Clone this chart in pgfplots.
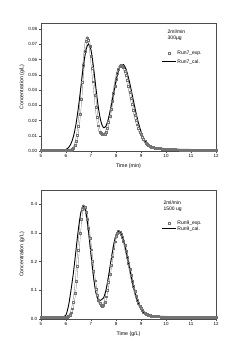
\documentclass[border=0pt]{standalone}
\usepackage{pgfplots}
\pgfplotsset{compat=1.18}
\usepackage{pgfplotstable}
\usepackage{fontspec}
\setmainfont{Liberation Sans}

\pgfplotstableread{
x y
5.00 0.0004
5.05 0.0004
5.10 0.0005
5.15 0.0004
5.20 0.0004
5.25 0.0005
5.30 0.0004
5.35 0.0004
5.40 0.0005
5.45 0.0004
5.50 0.0004
5.55 0.0005
5.60 0.0004
5.65 0.0004
5.70 0.0005
5.75 0.0004
5.80 0.0004
5.85 0.0005
5.90 0.0004
5.95 0.0004
6.00 0.0005
6.05 0.0004
6.10 0.0004
6.15 0.0006
6.20 0.0008
6.25 0.0012
6.30 0.0021
6.35 0.0036
6.40 0.0063
6.45 0.0104
6.50 0.0164
6.55 0.0244
6.60 0.0343
6.65 0.0453
6.70 0.0563
6.75 0.0657
6.80 0.0721
6.85 0.0744
6.90 0.0729
6.95 0.0687
7.00 0.0622
7.05 0.0542
7.10 0.0455
7.15 0.0368
7.20 0.0288
7.25 0.0220
7.30 0.0166
7.35 0.0126
7.40 0.0116
7.45 0.0110
7.50 0.0108
7.55 0.0112
7.60 0.0126
7.65 0.0151
7.70 0.0188
7.75 0.0230
7.80 0.0277
7.85 0.0327
7.90 0.0378
7.95 0.0427
8.00 0.0472
8.05 0.0510
8.10 0.0539
8.15 0.0558
8.20 0.0564
8.25 0.0560
8.30 0.0547
8.35 0.0526
8.40 0.0498
8.45 0.0465
8.50 0.0427
8.55 0.0386
8.60 0.0344
8.65 0.0305
8.70 0.0268
8.75 0.0233
8.80 0.0201
8.85 0.0173
8.90 0.0148
8.95 0.0126
9.00 0.0110
9.05 0.0091
9.10 0.0076
9.15 0.0062
9.20 0.0052
9.25 0.0044
9.30 0.0038
9.35 0.0032
9.40 0.0028
9.45 0.0025
9.50 0.0023
9.55 0.0021
9.60 0.0019
9.65 0.0017
9.70 0.0017
9.75 0.0016
9.80 0.0015
9.85 0.0014
9.90 0.0014
9.95 0.0013
10.00 0.0013
10.05 0.0012
10.10 0.0012
10.15 0.0011
10.20 0.0011
10.25 0.0010
10.30 0.0010
10.35 0.0010
10.40 0.0009
10.45 0.0009
10.50 0.0009
10.55 0.0008
10.60 0.0008
10.65 0.0008
10.70 0.0008
10.75 0.0007
10.80 0.0007
10.85 0.0007
10.90 0.0007
10.95 0.0007
11.00 0.0006
11.05 0.0006
11.10 0.0006
11.15 0.0006
11.20 0.0006
11.25 0.0006
11.30 0.0006
11.35 0.0006
11.40 0.0006
11.45 0.0006
11.50 0.0005
11.55 0.0005
11.60 0.0005
11.65 0.0005
11.70 0.0005
11.75 0.0005
11.80 0.0005
11.85 0.0005
11.90 0.0005
11.95 0.0005
12.00 0.0005
}\topexp

\pgfplotstableread{
x y
5.0 0.0002
5.2 0.0002
5.4 0.0002
5.6 0.0002
5.7 0.0002
5.8 0.0003
5.9 0.0005
6.0 0.0010
6.1 0.0022
6.2 0.0048
6.3 0.0097
6.4 0.0177
6.5 0.0290
6.6 0.0427
6.7 0.0563
6.8 0.0664
6.9 0.0702
7.0 0.0662
7.1 0.0550
7.2 0.0409
7.3 0.0279
7.4 0.0191
7.5 0.0153
7.6 0.0165
7.7 0.0214
7.8 0.0289
7.9 0.0376
8.0 0.0461
8.1 0.0529
8.2 0.0567
8.3 0.0568
8.4 0.0537
8.5 0.0480
8.6 0.0408
8.7 0.0328
8.8 0.0251
8.9 0.0183
9.0 0.0128
9.1 0.0087
9.2 0.0058
9.3 0.0039
9.4 0.0026
9.5 0.0019
9.6 0.0015
9.7 0.0012
9.8 0.0010
9.9 0.0009
10.0 0.0008
10.2 0.0007
10.5 0.0005
11.0 0.0004
11.5 0.0003
12.0 0.0003
}\topcal

\pgfplotstableread{
x y
5.00 0.0050
5.05 0.0050
5.10 0.0051
5.15 0.0050
5.20 0.0050
5.25 0.0051
5.30 0.0050
5.35 0.0050
5.40 0.0051
5.45 0.0050
5.50 0.0050
5.55 0.0051
5.60 0.0050
5.65 0.0050
5.70 0.0051
5.75 0.0050
5.80 0.0050
5.85 0.0050
5.90 0.0051
5.95 0.0054
6.00 0.0059
6.05 0.0070
6.10 0.0093
6.15 0.0139
6.20 0.0221
6.25 0.0360
6.30 0.0578
6.35 0.0894
6.40 0.1316
6.45 0.1835
6.50 0.2415
6.55 0.2994
6.60 0.3492
6.65 0.3829
6.70 0.3950
6.75 0.3895
6.80 0.3739
6.85 0.3492
6.90 0.3174
6.95 0.2807
7.00 0.2418
7.05 0.2030
7.10 0.1665
7.15 0.1336
7.20 0.1054
7.25 0.0829
7.30 0.0664
7.35 0.0540
7.40 0.0475
7.45 0.0450
7.50 0.0480
7.55 0.0590
7.60 0.0780
7.65 0.1010
7.70 0.1280
7.75 0.1577
7.80 0.1875
7.85 0.2174
7.90 0.2453
7.95 0.2698
8.00 0.2888
8.05 0.3008
8.10 0.3050
8.15 0.3029
8.20 0.2966
8.25 0.2864
8.30 0.2729
8.35 0.2564
8.40 0.2375
8.45 0.2171
8.50 0.1958
8.55 0.1739
8.60 0.1526
8.65 0.1322
8.70 0.1130
8.75 0.0956
8.80 0.0797
8.85 0.0659
8.90 0.0539
8.95 0.0437
9.00 0.0372
9.05 0.0305
9.10 0.0252
9.15 0.0211
9.20 0.0179
9.25 0.0156
9.30 0.0141
9.35 0.0125
9.40 0.0113
9.45 0.0104
9.50 0.0098
9.55 0.0093
9.60 0.0089
9.65 0.0085
9.70 0.0083
9.75 0.0081
9.80 0.0079
9.85 0.0077
9.90 0.0075
9.95 0.0073
10.00 0.0071
10.05 0.0070
10.10 0.0068
10.15 0.0066
10.20 0.0065
10.25 0.0064
10.30 0.0062
10.35 0.0061
10.40 0.0060
10.45 0.0059
10.50 0.0059
10.55 0.0058
10.60 0.0058
10.65 0.0057
10.70 0.0057
10.75 0.0056
10.80 0.0056
10.85 0.0056
10.90 0.0055
10.95 0.0055
11.00 0.0054
11.05 0.0054
11.10 0.0054
11.15 0.0053
11.20 0.0053
11.25 0.0053
11.30 0.0052
11.35 0.0052
11.40 0.0052
11.45 0.0052
11.50 0.0051
11.55 0.0051
11.60 0.0051
11.65 0.0051
11.70 0.0051
11.75 0.0050
11.80 0.0050
11.85 0.0050
11.90 0.0050
11.95 0.0050
12.00 0.0050
}\botexp

\pgfplotstableread{
x y
5.0 0.0030
5.2 0.0030
5.4 0.0030
5.5 0.0030
5.6 0.0033
5.7 0.0040
5.8 0.0050
5.9 0.0065
6.0 0.0140
6.1 0.0460
6.2 0.1006
6.3 0.1641
6.4 0.2407
6.5 0.3170
6.6 0.3738
6.7 0.3950
6.8 0.3710
6.9 0.3072
7.0 0.2248
7.1 0.1472
7.2 0.0900
7.3 0.0666
7.4 0.0660
7.5 0.0735
7.6 0.1013
7.7 0.1491
7.8 0.2038
7.9 0.2551
8.0 0.2924
8.1 0.3060
8.2 0.2975
8.3 0.2736
8.4 0.2378
8.5 0.1957
8.6 0.1521
8.7 0.1121
8.8 0.0789
8.9 0.0539
9.0 0.0355
9.1 0.0233
9.2 0.0158
9.3 0.0111
9.4 0.0085
9.5 0.0069
9.6 0.0060
9.7 0.0053
9.8 0.0050
9.9 0.0047
10.0 0.0045
10.2 0.0042
10.5 0.0038
11.0 0.0034
11.5 0.0032
12.0 0.0031
}\botcal

\pgfplotsset{
  chrom/.style={
    scale only axis, width=350pt,
    xmin=5, xmax=12, xtick={5,6,...,12},
    xtick pos=bottom, ytick pos=left, tick align=outside,
    major tick length=4pt,
    axis line style={black!70, line width=0.9pt},
    every tick/.style={black!70, line width=0.9pt},
    tick label style={font=\fontsize{9}{10}\selectfont},
    /pgf/number format/assume math mode=true,
    scaled y ticks=false,
    label style={font=\fontsize{10.5}{12}\selectfont},
    xlabel style={at={(axis description cs:0.5,-0.115)}, anchor=center},
    ylabel style={at={(axis description cs:-0.109,0.5)}, anchor=center},
    legend cell align=left,
    legend style={draw=none, fill=none, inner sep=0pt, font=\fontsize{10}{12}\selectfont,
      nodes={inner sep=1.5pt}},
  },
  expband/.style={smooth, no marks, draw=black!55, line width=0.7pt, double=white, double distance=2.4pt},
  expstyle/.style={only marks, mark=square, mark size=1.9pt,
    mark options={draw=black!55, line width=0.7pt, fill=none}},
  calstyle/.style={black, line width=1.8pt, smooth, no marks},
}

\begin{document}
\begin{tikzpicture}
\path[use as bounding box] (0,0) rectangle (500pt,682pt);

\begin{axis}[chrom, height=256pt, at={(82pt,380pt)}, anchor=south west,
  ymin=0, ymax=0.084, ytick={0,0.01,...,0.08},
  yticklabel style={/pgf/number format/fixed, /pgf/number format/fixed zerofill, /pgf/number format/precision=2},
  xlabel={Time (min)}, ylabel={Concentration (g/L)},
  legend style={at={(axis description cs:0.69,0.729)}, anchor=west, row sep=5pt}]
\addlegendimage{only marks, mark=square,
  legend image code/.code={\draw[draw=black!55, line width=0.7pt] (0.5*28pt-1.9pt,-1.9pt) rectangle (0.5*28pt+1.9pt,1.9pt);}}
\addlegendentry{Run7\_exp.}
\addlegendimage{black, line width=1.6pt,
  legend image code/.code={\draw[black, line width=1.6pt] (0pt,0pt) -- (28pt,0pt);}}
\addlegendentry{Run7\_cal.}
\addplot[expband, forget plot] table[x=x,y=y] {\topexp};
\addplot[expstyle, forget plot] table[x=x,y=y] {\topexp};
\addplot[calstyle, forget plot] table[x=x,y=y] {\topcal};
\node[anchor=west, font=\fontsize{10}{12}\selectfont] at (axis description cs:0.714,0.932) {2ml/min};
\node[anchor=west, font=\fontsize{10}{12}\selectfont] at (axis description cs:0.714,0.878) {300µg};
\end{axis}

\begin{axis}[chrom, height=258pt, at={(82pt,44pt)}, anchor=south west,
  ymin=0, ymax=0.45, ytick={0,0.1,...,0.4},
  yticklabel style={/pgf/number format/fixed, /pgf/number format/fixed zerofill, /pgf/number format/precision=1},
  xlabel={Time (g/L)}, ylabel={Concentration (g/L)},
  legend style={at={(axis description cs:0.69,0.721)}, anchor=west, row sep=0pt}]
\addlegendimage{only marks, mark=square,
  legend image code/.code={\draw[draw=black!55, line width=0.7pt] (0.5*28pt-1.9pt,-1.9pt) rectangle (0.5*28pt+1.9pt,1.9pt);}}
\addlegendentry{Run9\_exp.}
\addlegendimage{black, line width=1.6pt,
  legend image code/.code={\draw[black, line width=1.6pt] (0pt,0pt) -- (28pt,0pt);}}
\addlegendentry{Run9\_cal.}
\addplot[expband, forget plot] table[x=x,y=y] {\botexp};
\addplot[expstyle, forget plot] table[x=x,y=y] {\botexp};
\addplot[calstyle, forget plot] table[x=x,y=y] {\botcal};
\node[anchor=west, font=\fontsize{10}{12}\selectfont] at (axis description cs:0.69,0.905) {2ml/min};
\node[anchor=west, font=\fontsize{10}{12}\selectfont] at (axis description cs:0.69,0.85) {1500 ug};
\end{axis}
\end{tikzpicture}
\end{document}
